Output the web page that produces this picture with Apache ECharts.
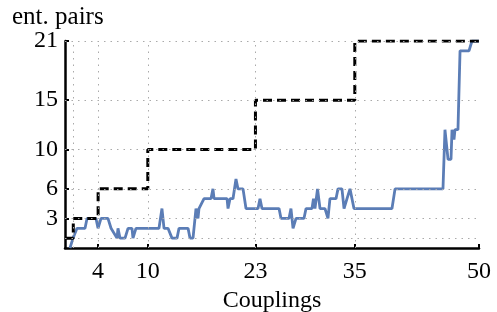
<!DOCTYPE html>
<html>
<head>
<meta charset="utf-8">
<script src="https://cdn.jsdelivr.net/npm/echarts@6/dist/echarts.min.js"></script>
<style>
  html, body { margin: 0; padding: 0; background: #fff; }
  #chart { width: 497px; height: 312px; }
</style>
</head>
<body>
<div id="chart"></div>
<script>
// tick positions
const xTicks = [4, 10, 23, 35, 50];
const yTicks = [3, 6, 10, 15, 21];
const xGrid = [1, 4, 10, 23, 35];
const yGrid = [1, 3, 6, 10, 15, 21];

// upper bound (dashed step)
const boundX = [0, 1, 4, 10, 23, 35, 50];
const boundY = [1, 3, 6, 10, 15, 21, 21];

// measured entangled pairs (blue)
const pairsX = [0.6, 0.97, 1.45, 2.42, 2.66, 3.74, 3.99, 4.35, 5.19, 5.56, 5.8, 6.28, 6.4, 6.64, 7.25, 7.61,
  8.09, 8.21, 8.57, 11.35, 11.71, 11.96, 12.44, 12.92, 13.53, 13.77, 14.86, 15.1, 15.46, 15.82, 16.06,
  16.18, 16.79, 17.63, 17.87, 18.0, 19.57, 19.69, 19.93, 20.29, 20.65, 20.89, 21.5, 21.86, 23.31, 23.55,
  23.79, 25.85, 26.09, 27.05, 27.29, 27.54, 27.9, 28.86, 29.11, 29.83, 30.01, 30.19, 30.5, 30.8, 31.4,
  31.76, 32.0, 32.73, 32.97, 33.45, 33.7, 34.06, 34.42, 34.9, 39.49, 39.86, 45.65, 45.89, 46.26, 46.62,
  46.74, 46.98, 47.1, 47.46, 47.71, 48.79, 49.15, 50];
const pairsY = [0, 1, 2, 2, 3, 3, 2, 3, 3, 2, 2, 1, 2, 1, 1, 2,
  2, 1, 2, 2, 4, 2, 2, 1, 1, 2, 2, 1, 1, 4, 3,
  4, 5, 5, 6, 5, 5, 4, 5, 5, 7, 6, 6, 4, 4, 5,
  4, 4, 3, 3, 4, 2, 3, 3, 4, 4, 5, 4, 6, 4, 4,
  3, 5, 5, 6, 6, 4, 5, 6, 4, 4, 6, 6, 12, 9, 9,
  12, 11, 12, 12, 20, 20, 21, 21];

const serif = 'Liberation Serif';
const chart = echarts.init(document.getElementById('chart'));

chart.setOption({
  animation: false,
  title: {
    text: 'ent. pairs',
    left: 7,
    top: 0,
    textStyle: { fontFamily: serif, fontSize: 25, fontWeight: 'normal', color: '#000' },
  },
  grid: { left: 65, right: 18, top: 41, bottom: 64, outerBoundsMode: 'none' },
  xAxis: {
    type: 'value',
    min: 0,
    max: 50,
    name: 'Couplings',
    nameLocation: 'middle',
    nameGap: 38,
    nameTextStyle: { fontFamily: serif, fontSize: 24, color: '#000' },
    axisLine: { onZero: false, lineStyle: { color: '#000', width: 2.5 } },
    axisTick: { inside: true, length: 4, customValues: xTicks, lineStyle: { color: '#000', width: 2 } },
    axisLabel: { customValues: xTicks, margin: 12, fontFamily: serif, fontSize: 24, color: '#000' },
    splitLine: { show: false },
  },
  yAxis: {
    type: 'value',
    min: 0,
    max: 21,
    axisLine: { lineStyle: { color: '#000', width: 2.5 } },
    axisTick: { inside: true, length: 4, customValues: yTicks, lineStyle: { color: '#000', width: 2 } },
    axisLabel: { customValues: yTicks, margin: 7, fontFamily: serif, fontSize: 24, color: '#000' },
    splitLine: { show: false },
  },
  series: [
    {
      type: 'line',
      data: [],
      silent: true,
      markLine: {
        silent: true,
        symbol: 'none',
        label: { show: false },
        lineStyle: { color: '#aaa', width: 1, type: [1.5, 5] },
        data: xGrid.map((v) => ({ xAxis: v })).concat(yGrid.map((v) => ({ yAxis: v }))),
      },
    },
    {
      name: 'measured',
      type: 'line',
      showSymbol: false,
      data: pairsX.map((x, i) => [x, pairsY[i]]),
      lineStyle: { color: '#5b7db6', width: 2.8 },
      z: 3,
    },
    {
      name: 'bound',
      type: 'line',
      step: 'end',
      showSymbol: false,
      data: boundX.map((x, i) => [x, boundY[i]]),
      lineStyle: { color: '#000', width: 3, type: [9, 5] },
      z: 4,
    },
  ],
});
</script>
</body>
</html>
